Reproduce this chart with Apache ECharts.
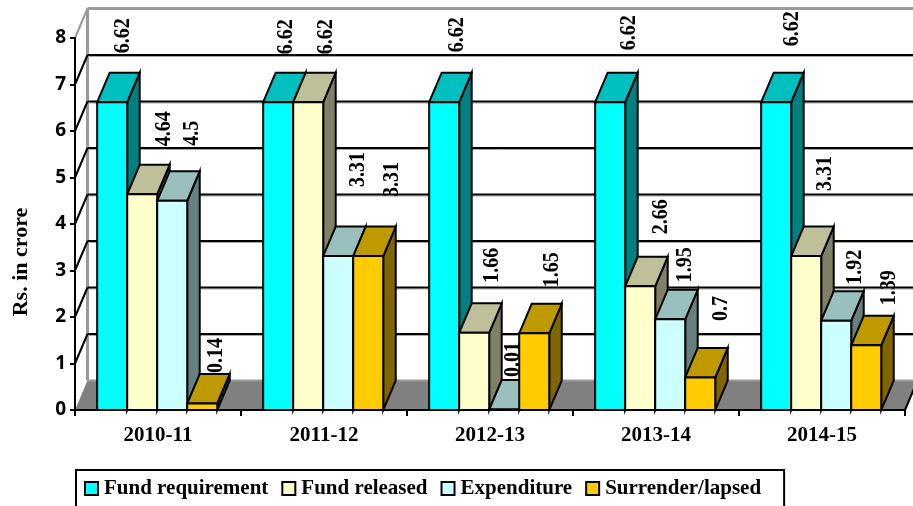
<!DOCTYPE html>
<html>
<head>
<meta charset="utf-8">
<style>html,body{margin:0;padding:0;background:#fff}#c{width:913px;height:506px}</style>
<script src="https://cdn.jsdelivr.net/npm/echarts@6/dist/echarts.min.js"></script>
</head>
<body>
<div id="c"></div>
<script>
var categories = ['2010-11', '2011-12', '2012-13', '2013-14', '2014-15'];
var fundRequirement = [6.62, 6.62, 6.62, 6.62, 6.62];
var fundReleased = [4.64, 6.62, 1.66, 2.66, 3.31];
var expenditure = [4.5, 3.31, 0.01, 1.95, 1.92];
var surrenderLapsed = [0.14, 3.31, 1.65, 0.7, 1.39];
var yTicks = [0, 1, 2, 3, 4, 5, 6, 7, 8];

var seriesNames = ['Fund requirement', 'Fund released', 'Expenditure', 'Surrender/lapsed'];
var seriesValues = [fundRequirement, fundReleased, expenditure, surrenderLapsed];
var frontColors = ['#00FFFF', '#FFFFCC', '#CCFFFF', '#FFCC00'];
var topColors = ['#00BFBF', '#BFBF99', '#99BFBF', '#BF9900'];
var sideColors = ['#008080', '#808066', '#668080', '#806600'];

// Hand-placed data label offsets from each bar's top centre, as in the source chart
var labelDx = [[11, 8, 12.5, 19, 16], [22, 18, 17.5, 21, 19], [20, 20, 8.5, 15, 19], [14, 24, 17.5, 21, 23]];
var labelDy = [[49, 48, 50, 52, 56], [48, 48, 50, 52, 65], [55, 69, 32.5, 37, 36], [30.5, 59, 46, 56.5, 40]];

var DX = 12.5, DY = 29.5, BAR_DIV = 5.53;
var SERIF = '"Liberation Serif","Times New Roman",serif';
var BLACK = '#000';

function line(x1, y1, x2, y2, color, w) {
  return { type: 'line', shape: { x1: x1, y1: y1, x2: x2, y2: y2 }, style: { stroke: color, lineWidth: w, fill: null } };
}
function poly(points, fill) {
  return { type: 'polygon', shape: { points: points }, style: { fill: fill, stroke: BLACK, lineWidth: 2, lineJoin: 'miter' } };
}

function renderFrame(params, api) {
  var v = api.value(1);
  var r = params.coordSys;
  var y = api.coord([0, v])[1];
  var l = r.x, rt = r.x + r.width;
  var kids = [];
  if (v === 0) {
    kids.push({ type: 'polygon', shape: { points: [[l, y], [l + DX, y - DY], [rt + DX, y - DY], [rt, y]] }, style: { fill: '#808080' } });
    kids.push(line(l + DX, y - DY, rt + DX, y - DY, '#999', 2));
    kids.push(line(l + DX, r.y - DY, l + DX, y - DY, '#999', 3));
    kids.push(line(rt, y, rt + DX, y - DY, '#000', 2));
  } else if (v === 8) {
    kids.push(line(l, y, l + DX, y - DY, '#999', 2));
    kids.push(line(l + DX, y - DY, rt + DX, y - DY, '#999', 3));
  } else {
    kids.push(line(l + DX, y - DY + 1.5, rt + DX, y - DY + 1.5, '#aaa', 1));
    kids.push(line(l + DX, y - DY, rt + DX, y - DY, BLACK, 2));
    kids.push(line(l, y, l + DX, y - DY, BLACK, 2));
  }
  return { type: 'group', children: kids };
}

function renderBar(s) {
  return function (params, api) {
    var i = api.value(0);
    var top = api.coord([i, api.value(1)]);
    var base = api.coord([i, 0]);
    var w = api.size([1, 0])[0] / BAR_DIV;
    var x0 = top[0] - 0.8 + (s - 2) * w, x1 = x0 + w, yt = top[1], yb = base[1];
    return {
      type: 'group',
      children: [
        poly([[x1, yt], [x1 + DX, yt - DY], [x1 + DX, yb - DY], [x1, yb]], sideColors[s]),
        poly([[x0, yt], [x0 + DX, yt - DY], [x1 + DX, yt - DY], [x1, yt]], topColors[s]),
        { type: 'rect', shape: { x: x0, y: yt, width: w, height: yb - yt }, style: { fill: frontColors[s], stroke: BLACK, lineWidth: 2 } }
      ]
    };
  };
}

function renderLabel(s) {
  return function (params, api) {
    var i = api.value(0);
    var val = api.value(1);
    var top = api.coord([i, val]);
    var w = api.size([1, 0])[0] / BAR_DIV;
    var cx = top[0] - 0.8 + (s - 1.5) * w;
    return {
      type: 'text',
      x: cx + labelDx[s][i],
      y: top[1] - labelDy[s][i],
      rotation: Math.PI / 2,
      scaleY: 1.15,
      style: { text: String(val), font: 'bold 20px ' + SERIF, fill: BLACK, textAlign: 'left', textVerticalAlign: 'middle' }
    };
  };
}

var series = [];
seriesValues.forEach(function (vals, s) {
  series.push({
    name: 'label' + s, type: 'custom', z: 1, silent: true, renderItem: renderLabel(s),
    encode: { x: 0, y: 1 },
    data: vals.map(function (v, i) { return [i, v]; })
  });
});
series.push({
  name: 'frame', type: 'custom', z: 2, silent: true, renderItem: renderFrame,
  encode: { x: 0, y: 1 },
  data: yTicks.map(function (v) { return [0, v]; })
});
seriesValues.forEach(function (vals, s) {
  series.push({
    name: seriesNames[s], type: 'custom', z: 3, renderItem: renderBar(s),
    encode: { x: 0, y: 1 },
    itemStyle: { color: frontColors[s] },
    data: vals.map(function (v, i) { return [i, v]; })
  });
});

var chart = echarts.init(document.getElementById('c'), null, { renderer: 'canvas' });
chart.setOption({
  animation: false,
  backgroundColor: '#fff',
  grid: { left: 75, top: 38, width: 830, height: 372, containLabel: false },
  xAxis: {
    type: 'category', data: categories, z: 4,
    axisLine: { show: true, lineStyle: { color: BLACK, width: 2 } },
    axisTick: { show: true, length: 6, lineStyle: { color: BLACK, width: 2 } },
    axisLabel: { color: BLACK, fontFamily: SERIF, fontWeight: 'bold', fontSize: 21, margin: 15 },
    splitLine: { show: false }
  },
  yAxis: {
    type: 'value', min: 0, max: 8, interval: 1, z: 4,
    axisLine: { show: true, lineStyle: { color: BLACK, width: 2 } },
    axisTick: { show: true, length: 5, lineStyle: { color: BLACK, width: 2 } },
    axisLabel: { color: BLACK, fontFamily: '"Open Sans",sans-serif', fontWeight: 'bold', fontSize: 19, margin: 9, padding: [3, 0, 0, 0] },
    splitLine: { show: false }
  },
  legend: {
    data: seriesNames, selectedMode: false, left: 76, top: 470,
    orient: 'horizontal', icon: 'rect', itemWidth: 13, itemHeight: 13, itemGap: 13,
    padding: [8, 23, 24, 8], borderColor: BLACK, borderWidth: 2,
    itemStyle: { borderColor: BLACK, borderWidth: 2 },
    textStyle: { color: BLACK, fontFamily: SERIF, fontWeight: 'bold', fontSize: 21, padding: [0, 0, 0, 1] }
  },
  graphic: [{
    type: 'text', x: 21, y: 262, rotation: Math.PI / 2,
    style: { text: 'Rs. in crore', font: 'bold 22px ' + SERIF, fill: BLACK, textAlign: 'center', textVerticalAlign: 'middle' }
  }],
  series: series
});
</script>
</body>
</html>
